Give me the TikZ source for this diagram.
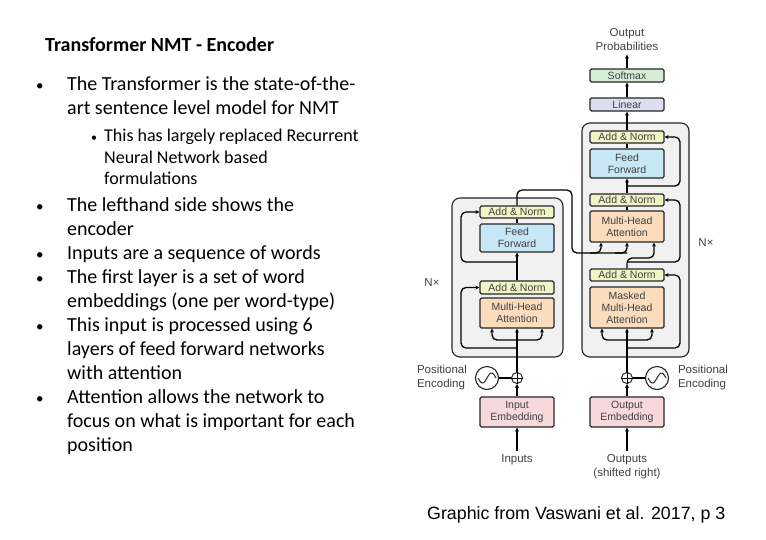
\documentclass[tikz,border=0pt]{standalone}
\usepackage{fontspec}
\setmainfont{Carlito}
\newfontfamily\hv{Liberation Sans}
\usetikzlibrary{arrows.meta,calc}
\definecolor{anC}{HTML}{F1F5C6}
\definecolor{ffC}{HTML}{C8E7F6}
\definecolor{atC}{HTML}{FBDDBE}
\definecolor{emC}{HTML}{F7D9DC}
\definecolor{smC}{HTML}{D4EED6}
\definecolor{liC}{HTML}{DDDFF1}
\definecolor{bgC}{HTML}{F1F1F1}
\newcommand{\bb}{\makebox[31pt][l]{\fontsize{15}{15}\selectfont•}}
\newcommand{\ib}{\hspace*{31pt}}
\newcommand{\sbb}{\makebox[13pt][l]{\fontsize{12}{12}\selectfont•}}
\newcommand{\sib}{\hspace*{13pt}}
\begin{document}
\begin{tikzpicture}[x=1pt,y=-1pt,
  blk/.style={draw=black!85,line width=1.1pt,rounded corners=1.5pt,minimum width=74pt,inner sep=0pt,align=center,font=\hv\fontsize{10.5}{12}\selectfont,text=black!75},
  ln/.style={line width=1.3pt,rounded corners=5pt},
  arr/.style={ln,-{Stealth[length=4pt,width=4pt]}},
  lay/.style={draw=black!85,line width=1.1pt,rounded corners=8pt,fill=bgC},
  lbl/.style={font=\hv\fontsize{11.5}{14}\selectfont,text=black!75,align=center},
  txt/.style={anchor=north west,align=left,inner sep=0pt,font=\fontsize{20}{24}\selectfont},
  stxt/.style={anchor=north west,align=left,inner sep=0pt,font=\fontsize{18}{21.5}\selectfont}]
\useasboundingbox (0,0) rectangle (766,539);
% text
\node[anchor=base west,inner sep=0pt,font=\bfseries\fontsize{20}{22}\selectfont] (title) at (45,51) {Transformer NMT - Encoder};
\node[txt] (b1) at (36,76) {\bb The Transformer is the state-of-the-\\\ib art sentence level model for NMT};
\node[stxt] (s1) at (91,129) {\sbb This has largely replaced Recurrent\\\sib Neural Network based\\\sib formulations};
\node[txt] (b2) at (36,197) {\bb The lefthand side shows the\\\ib encoder\\\bb Inputs are a sequence of words\\\bb The first layer is a set of word\\\ib embeddings (one per word-type)\\\bb This input is processed using 6\\\ib layers of feed forward networks\\\ib with attention\\\bb Attention allows the network to\\\ib focus on what is important for each\\\ib position};
\node[anchor=base west,inner sep=0pt,font=\hv\fontsize{17.8}{20}\selectfont] (cap) at (427,519) {Graphic from Vaswani et al. 2017, p 3};
% layer boxes
\draw[lay] (452,198) rectangle (563,357);
\draw[lay] (582,123) rectangle (689,357);
% encoder blocks
\node[blk,fill=anC,minimum height=12pt] (eAN2) at (517,212) {Add \& Norm};
\node[blk,fill=ffC,minimum height=28pt] (eFF) at (517,238) {Feed\\Forward};
\node[blk,fill=anC,minimum height=13pt] (eAN1) at (517,287.5) {Add \& Norm};
\node[blk,fill=atC,minimum height=30pt] (eMHA) at (517,313) {Multi-Head\\Attention};
\node[blk,fill=emC,minimum height=30pt] (eEmb) at (517,412) {Input\\Embedding};
% decoder blocks
\node[blk,fill=smC,minimum height=13pt] (soft) at (627,75.5) {Softmax};
\node[blk,fill=liC,minimum height=13pt] (lin) at (627,104.5) {Linear};
\node[blk,fill=anC,minimum height=12pt] (dAN3) at (627,137) {Add \& Norm};
\node[blk,fill=ffC,minimum height=29pt] (dFF) at (627,163.5) {Feed\\Forward};
\node[blk,fill=anC,minimum height=12pt] (dAN2) at (627,200) {Add \& Norm};
\node[blk,fill=atC,minimum height=31pt] (dMHA) at (627,226.5) {Multi-Head\\Attention};
\node[blk,fill=anC,minimum height=12pt] (dAN1) at (627,275) {Add \& Norm};
\node[blk,fill=atC,minimum height=41pt] (dMMHA) at (627,307.5) {Masked\\Multi-Head\\Attention};
\node[blk,fill=emC,minimum height=30pt] (dEmb) at (627,412) {Output\\Embedding};
% labels
\node[lbl] (inp) at (517,460) {Inputs};
\node[lbl] (outp) at (627,467) {Outputs\\(shifted right)};
\node[lbl] (prob) at (627,40) {Output\\Probabilities};
\node[lbl] (nx1) at (432,283) {N×};
\node[lbl] (nx2) at (706,243) {N×};
\node[lbl,align=left] (pe1) at (442,378) {Positional\\Encoding};
\node[lbl,align=left] (pe2) at (703,378) {Positional\\Encoding};
% positional encodings
\node[circle,draw=black!85,line width=1.1pt,minimum size=23pt,inner sep=0pt] (es) at (487,378) {};
\node[circle,draw=black!85,line width=1.1pt,minimum size=23pt,inner sep=0pt] (ds) at (657,378) {};
\draw[line width=1pt,black!85] plot[domain=-9:9,samples=30,smooth] ({487+\x},{378-5*sin(\x*20)});
\draw[line width=1pt,black!85] plot[domain=-9:9,samples=30,smooth] ({657+\x},{378-5*sin(\x*20)});
\node[circle,draw=black!85,line width=1pt,minimum size=11pt,inner sep=0pt] (ep) at (517,378) {};
\node[circle,draw=black!85,line width=1pt,minimum size=11pt,inner sep=0pt] (dp) at (627,378) {};
\draw[line width=1pt] (ep.north)--(ep.south) (ep.west)--(ep.east) (dp.north)--(dp.south) (dp.west)--(dp.east);
\draw[ln] (es)--(ep) (ds)--(dp);
% encoder connections
\draw[arr] (inp)--(eEmb);
\draw[arr] (eEmb)--(ep);
\draw[arr] (ep)--(eMHA);
\coordinate (eb) at (517,340);
\draw[arr] (eb) -| ([xshift=-25pt]eMHA.south);
\draw[arr] (eb) -| ([xshift=25pt]eMHA.south);
\coordinate (er1) at (517,348);
\draw[arr] (er1)--(461,348)--(461,287.5)--(eAN1.west);
\draw[arr] (eAN1)--(eFF);
\coordinate (er2) at (517,262);
\draw[arr] (er2)--(461,262)--(461,212)--(eAN2.west);
\draw[ln] (eFF)--(eAN2);
\draw[ln] (eAN2.north)--(517,190)--(572,190)--(572,253)--(627,253);
\draw[arr] (590,253) -| ([xshift=-26pt]dMHA.south);
\draw[arr] (615,253) -| (dMHA.south);
% decoder connections
\draw[arr] (outp)--(dEmb);
\draw[arr] (dEmb)--(dp);
\draw[arr] (dp)--(dMMHA);
\coordinate (db) at (627,340);
\draw[arr] (db) -| ([xshift=-25pt]dMMHA.south);
\draw[arr] (db) -| ([xshift=25pt]dMMHA.south);
\coordinate (dr1) at (627,348);
\draw[arr] (dr1)--(680,348)--(680,275)--(dAN1.east);
\draw[arr] (dAN1.north)--(627,258)--(654,258)--([xshift=27pt]dMHA.south);
\coordinate (dr2) at (627,262);
\draw[arr] (dr2)--(680,262)--(680,200)--(dAN2.east);
\draw[ln] (dMHA)--(dAN2);
\draw[arr] (dAN2)--(dFF);
\coordinate (dr3) at (627,186);
\draw[arr] (dr3)--(680,186)--(680,137)--(dAN3.east);
\draw[ln] (dFF)--(dAN3);
\draw[arr] (dAN3)--(lin);
\draw[arr] (lin)--(soft);
\draw[arr] (soft)--(prob);
\end{tikzpicture}
\end{document}
